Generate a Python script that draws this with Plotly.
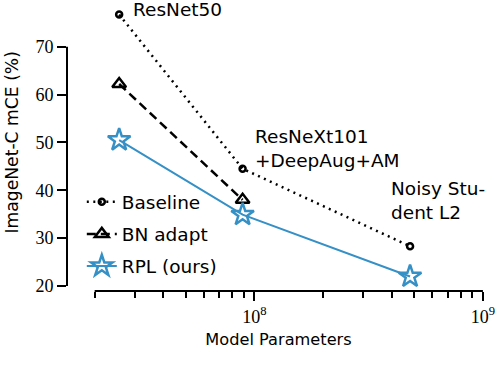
import plotly.graph_objects as go
import numpy as np

# ---- data ----
models = ["ResNet50", "ResNeXt101\n+DeepAug+AM", "Noisy Student L2"]
params = [25.6e6, 88.8e6, 480e6]
baseline = [76.7, 44.5, 28.3]
bn_adapt = [62.2, 38.0]
rpl = [50.5, 34.9, 22.0]
ytick_vals = [20, 30, 40, 50, 60, 70]
xtick_major = [1e8, 1e9]
xtick_major_text = ["10<sup>8</sup>", "10<sup>9</sup>"]
xtick_minor = [2e7, 3e7, 4e7, 5e7, 6e7, 7e7, 8e7, 9e7,
               2e8, 3e8, 4e8, 5e8, 6e8, 7e8, 8e8, 9e8]
label_texts = ["ResNet50", "ResNeXt101<br>+DeepAug+AM", "Noisy Stu-<br>dent L2"]
y_title = "ImageNet-C mCE (%)"
x_title = "Model Parameters"

BLUE = "#3590c6"
SANS = "DejaVu Sans"
SERIF = "Liberation Serif"

fig = go.Figure()
fig.add_trace(go.Scatter(
    x=params, y=baseline, mode="lines+markers", name="Baseline",
    legendgroup="a",
    line=dict(color="black", width=2.5, dash="2px,4.5px"),
    marker=dict(symbol="circle-open", size=6, color="black", line=dict(width=2.5, color="black")),
    cliponaxis=False,
))
fig.add_trace(go.Scatter(
    x=params[:2], y=bn_adapt, mode="lines+markers", name="BN adapt",
    legendgroup="b",
    line=dict(color="black", width=2.5, dash="9px,5px"),
    marker=dict(symbol="triangle-up-open", size=12, color="black", line=dict(width=2.5, color="black")),
    cliponaxis=False,
))
fig.add_trace(go.Scatter(
    x=params, y=rpl, mode="lines+markers", name="RPL (ours)",
    legendgroup="c",
    line=dict(color=BLUE, width=2),
    marker=dict(symbol="star-open", size=17, color=BLUE, line=dict(width=2.5, color=BLUE)),
    cliponaxis=False,
))

# labels next to baseline points
shifts = [(12, 5), (10, 20), (-21, 46)]
for px, py, txt, (dx, dy) in zip(params, baseline, label_texts, shifts):
    fig.add_annotation(
        x=np.log10(px), y=py, xref="x", yref="y", text=txt, showarrow=False,
        xanchor="left", yanchor="middle", align="left", xshift=dx, yshift=dy,
        font=dict(family=SANS, size=18.5, color="black"),
    )

# y-axis title as rotated text
fig.add_annotation(
    x=0, y=0.51, xref="paper", yref="paper", text=y_title, showarrow=False,
    textangle=-90, xanchor="center", yanchor="middle", xshift=-55,
    font=dict(family=SANS, size=17.2, color="black"),
)

# trimmed spines
fig.add_shape(type="line", xref="x", yref="paper", x0=min(xtick_minor), x1=max(xtick_major),
              y0=0, y1=0, line=dict(color="black", width=2))
fig.add_shape(type="line", xref="paper", yref="y", x0=0, x1=0,
              y0=min(ytick_vals), y1=max(ytick_vals), line=dict(color="black", width=2))

fig.update_layout(
    width=496, height=380,
    margin=dict(l=67, r=6, t=0, b=89, autoexpand=False),
    paper_bgcolor="white", plot_bgcolor="white",
    showlegend=True,
    legend=dict(x=0.035, y=0.37, xanchor="left", yanchor="top",
                font=dict(family=SANS, size=18.5, color="black"),
                bgcolor="rgba(0,0,0,0)", tracegroupgap=5, itemwidth=30,
                traceorder="grouped"),
    xaxis=dict(type="log", range=[7.180, 9.031], showgrid=False, zeroline=False,
               showline=False, ticks="outside", ticklen=9, tickwidth=2, tickcolor="black",
               automargin=False,
               tickvals=xtick_major, ticktext=xtick_major_text,
               tickfont=dict(family=SERIF, size=18, color="black"),
               minor=dict(tickvals=xtick_minor, ticks="outside", ticklen=6, tickwidth=1.6,
                          tickcolor="black", showgrid=False),
               title=dict(text=x_title, font=dict(family=SANS, size=16.2, color="black"),
                          standoff=8)),
    yaxis=dict(range=[18.96, 79.75], showgrid=False, zeroline=False, showline=False,
               ticks="outside", ticklen=9, tickwidth=2, tickcolor="black",
               automargin=False,
               tickvals=ytick_vals, tickfont=dict(family=SERIF, size=18, color="black")),
)

fig.write_html("out.html", config={"displayModeBar": False},
               post_script="document.body.style.margin='0px';")
